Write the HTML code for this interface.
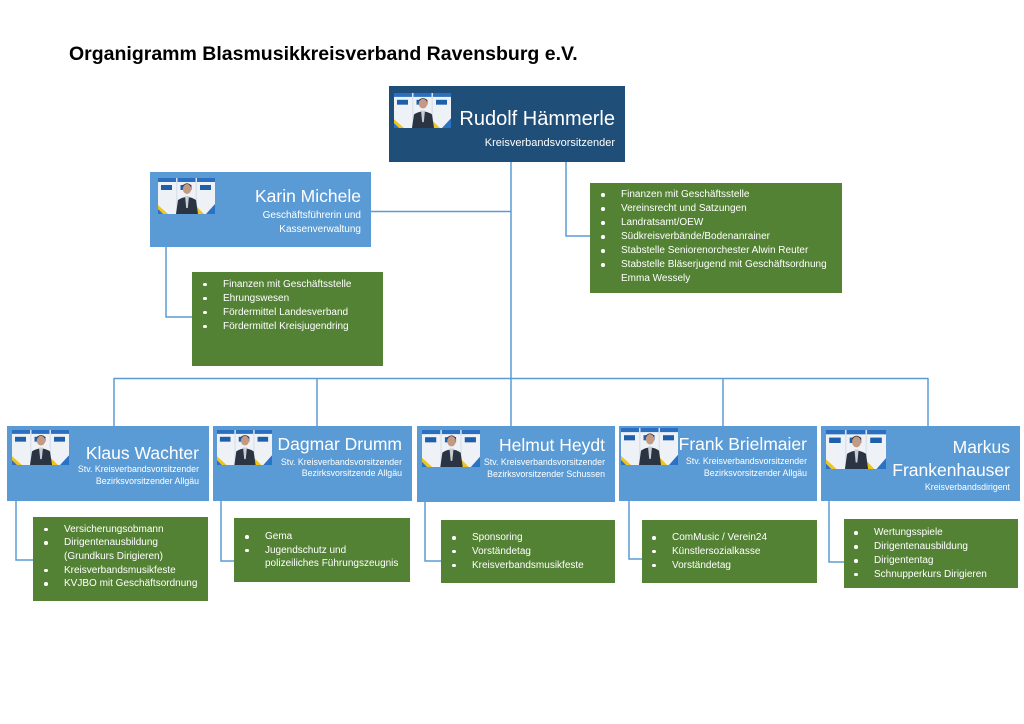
<!DOCTYPE html>
<html>
<head>
<meta charset="utf-8">
<style>
html,body{margin:0;padding:0;background:#fff;}
body{width:1024px;height:724px;position:relative;overflow:hidden;font-family:"Liberation Sans",Arial,sans-serif;}
.b{position:absolute;}
.nav{background:#1f4e79;}
.bl{background:#5b9bd5;}
.gr{background:#548235;}
.t{position:absolute;white-space:nowrap;line-height:1;color:#fff;text-align:right;}
.ph{position:absolute;}
.li{position:absolute;white-space:nowrap;color:#fff;font-size:10px;line-height:14px;}
.li div{position:relative;padding-left:20px;}
.li div.s:before{content:"";position:absolute;left:0;top:5px;width:3.5px;height:3.5px;border-radius:50%;background:#fff;}
</style>
</head>
<body>
<svg width="0" height="0" style="position:absolute">
<defs>
<symbol id="p" viewBox="0 0 57 36" preserveAspectRatio="none">
<rect width="57" height="36" fill="#dbe3ec"/>
<rect x="0" y="0" width="18" height="36" fill="#eef2f6"/>
<rect x="19.5" y="0" width="18" height="36" fill="#eef2f6"/>
<rect x="39" y="0" width="18" height="36" fill="#eef2f6"/>
<rect x="0" y="0" width="18" height="4" fill="#2a6fc0"/>
<rect x="19.5" y="0" width="18" height="4" fill="#2a6fc0"/>
<rect x="39" y="0" width="18" height="4" fill="#2a6fc0"/>
<rect x="3" y="7" width="11" height="5" fill="#1d5fa8"/>
<rect x="22.5" y="7" width="11" height="5" fill="#1d5fa8"/>
<rect x="42" y="7" width="11" height="5" fill="#1d5fa8"/>
<polygon points="0,27 10,36 0,36" fill="#f0c419"/>
<polygon points="0,31 5,36 0,36" fill="#2a72c4"/>
<polygon points="19.5,29 27,36 19.5,36" fill="#f0c419"/>
<polygon points="39,29 46,36 39,36" fill="#f0c419"/>
<polygon points="57,26 57,36 48,36" fill="#2a72c4"/>
<ellipse cx="29" cy="11" rx="4.2" ry="5" fill="#c49a85"/>
<path d="M24.6 9 Q29 3 33.4 9 L33 7 Q29 3.5 25 7 Z" fill="#3a2f2a"/>
<path d="M18 36 L20 22 Q29 16 38 22 L40 36 Z" fill="#2b3442"/>
<polygon points="27,18 31,18 29.8,30 28.2,30" fill="#c8ced6"/>
</symbol>
</defs>
</svg>

<!-- Title -->
<div class="t" style="left:69px;top:45px;font-size:19.5px;font-weight:bold;color:#000;text-align:left;">Organigramm Blasmusikkreisverband Ravensburg e.V.</div>

<!-- Connectors -->
<svg class="b" style="left:0;top:0" width="1024" height="724">
<g fill="none" stroke="#5b9bd5" stroke-width="1.5">
<path d="M511 162 V378"/>
<path d="M566 162 V236 H590"/>
<path d="M371 211.5 H511"/>
<path d="M166 247 V317 H192"/>
<path d="M114 378.5 H928"/>
<path d="M114 378 V426 M317 378 V426 M511 378 V426 M723 378 V426 M928 378 V426"/>
<path d="M16 501 V560 H33"/>
<path d="M221 501 V561 H234"/>
<path d="M425 502 V561 H441"/>
<path d="M629 501 V559 H642"/>
<path d="M829 501 V562 H844"/>
</g>
</svg>

<!-- Rudolf -->
<div class="b nav" style="left:389px;top:86px;width:236px;height:76px;"></div>
<svg class="ph" style="left:394px;top:93px" width="57" height="35"><use href="#p"/></svg>
<div class="t" style="right:409px;top:109px;font-size:20px;">Rudolf Hämmerle</div>
<div class="t" style="right:409px;top:137.5px;font-size:11px;">Kreisverbandsvorsitzender</div>

<!-- Karin -->
<div class="b bl" style="left:150px;top:172px;width:221px;height:75px;"></div>
<svg class="ph" style="left:158px;top:178px" width="57" height="36"><use href="#p"/></svg>
<div class="t" style="right:663px;top:188px;font-size:17.5px;">Karin Michele</div>
<div class="t" style="right:663px;top:211px;font-size:10px;">Geschäftsführerin und</div>
<div class="t" style="right:663px;top:224.5px;font-size:10px;">Kassenverwaltung</div>

<!-- Karin green -->
<div class="b gr" style="left:192px;top:272px;width:191px;height:94px;"></div>
<div class="li" style="left:203px;top:277.5px;">
<div class="s">Finanzen mit Geschäftsstelle</div>
<div class="s">Ehrungswesen</div>
<div class="s">Fördermittel Landesverband</div>
<div class="s">Fördermittel Kreisjugendring</div>
</div>

<!-- Right green -->
<div class="b gr" style="left:590px;top:183px;width:252px;height:110px;"></div>
<div class="li" style="left:601px;top:188px;">
<div class="s">Finanzen mit Geschäftsstelle</div>
<div class="s">Vereinsrecht und Satzungen</div>
<div class="s">Landratsamt/OEW</div>
<div class="s">Südkreisverbände/Bodenanrainer</div>
<div class="s">Stabstelle Seniorenorchester Alwin Reuter</div>
<div class="s">Stabstelle Bläserjugend mit Geschäftsordnung</div>
<div>Emma Wessely</div>
</div>

<!-- Klaus -->
<div class="b bl" style="left:7px;top:426px;width:202px;height:75px;"></div>
<svg class="ph" style="left:12px;top:430px" width="57" height="35"><use href="#p"/></svg>
<div class="t" style="right:825px;top:444.5px;font-size:17.5px;">Klaus Wachter</div>
<div class="t" style="right:825px;top:465px;font-size:8.8px;">Stv. Kreisverbandsvorsitzender</div>
<div class="t" style="right:825px;top:477px;font-size:8.8px;">Bezirksvorsitzender Allgäu</div>
<div class="b gr" style="left:33px;top:517px;width:175px;height:84px;"></div>
<div class="li" style="left:44px;top:522.5px;line-height:13.7px;">
<div class="s">Versicherungsobmann</div>
<div class="s">Dirigentenausbildung</div>
<div>(Grundkurs Dirigieren)</div>
<div class="s">Kreisverbandsmusikfeste</div>
<div class="s">KVJBO mit Geschäftsordnung</div>
</div>

<!-- Dagmar -->
<div class="b bl" style="left:213px;top:426px;width:199px;height:75px;"></div>
<svg class="ph" style="left:217px;top:430px" width="55" height="35"><use href="#p"/></svg>
<div class="t" style="right:622px;top:436.2px;font-size:17.5px;">Dagmar Drumm</div>
<div class="t" style="right:622px;top:457.5px;font-size:8.8px;">Stv. Kreisverbandsvorsitzender</div>
<div class="t" style="right:622px;top:469.3px;font-size:8.8px;">Bezirksvorsitzende Allgäu</div>
<div class="b gr" style="left:234px;top:518px;width:176px;height:64px;"></div>
<div class="li" style="left:245px;top:530.3px;line-height:13.4px;">
<div class="s">Gema</div>
<div class="s">Jugendschutz und</div>
<div>polizeiliches Führungszeugnis</div>
</div>

<!-- Helmut -->
<div class="b bl" style="left:417px;top:426px;width:198px;height:76px;"></div>
<svg class="ph" style="left:422px;top:430px" width="58" height="37"><use href="#p"/></svg>
<div class="t" style="right:419px;top:436.9px;font-size:17.5px;">Helmut Heydt</div>
<div class="t" style="right:419px;top:457.5px;font-size:8.8px;">Stv. Kreisverbandsvorsitzender</div>
<div class="t" style="right:419px;top:469.8px;font-size:8.8px;">Bezirksvorsitzender Schussen</div>
<div class="b gr" style="left:441px;top:520px;width:174px;height:63px;"></div>
<div class="li" style="left:452px;top:531.2px;line-height:13.8px;">
<div class="s">Sponsoring</div>
<div class="s">Vorständetag</div>
<div class="s">Kreisverbandsmusikfeste</div>
</div>

<!-- Frank -->
<div class="b bl" style="left:619px;top:426px;width:198px;height:75px;"></div>
<svg class="ph" style="left:621px;top:428px" width="57" height="37"><use href="#p"/></svg>
<div class="t" style="right:217px;top:436.2px;font-size:17.5px;">Frank Brielmaier</div>
<div class="t" style="right:217px;top:457px;font-size:8.8px;">Stv. Kreisverbandsvorsitzender</div>
<div class="t" style="right:217px;top:469.3px;font-size:8.8px;">Bezirksvorsitzender Allgäu</div>
<div class="b gr" style="left:642px;top:520px;width:175px;height:63px;"></div>
<div class="li" style="left:652px;top:531.2px;line-height:13.7px;">
<div class="s">ComMusic / Verein24</div>
<div class="s">Künstlersozialkasse</div>
<div class="s">Vorständetag</div>
</div>

<!-- Markus -->
<div class="b bl" style="left:821px;top:426px;width:199px;height:75px;"></div>
<svg class="ph" style="left:826px;top:430px" width="60" height="39"><use href="#p"/></svg>
<div class="t" style="right:14px;top:438.5px;font-size:17.5px;">Markus</div>
<div class="t" style="right:14px;top:461.9px;font-size:17.5px;">Frankenhauser</div>
<div class="t" style="right:14px;top:483.3px;font-size:8.8px;">Kreisverbandsdirigent</div>
<div class="b gr" style="left:844px;top:519px;width:174px;height:69px;"></div>
<div class="li" style="left:854px;top:526.2px;line-height:13.9px;">
<div class="s">Wertungsspiele</div>
<div class="s">Dirigentenausbildung</div>
<div class="s">Dirigententag</div>
<div class="s">Schnupperkurs Dirigieren</div>
</div>

</body>
</html>
